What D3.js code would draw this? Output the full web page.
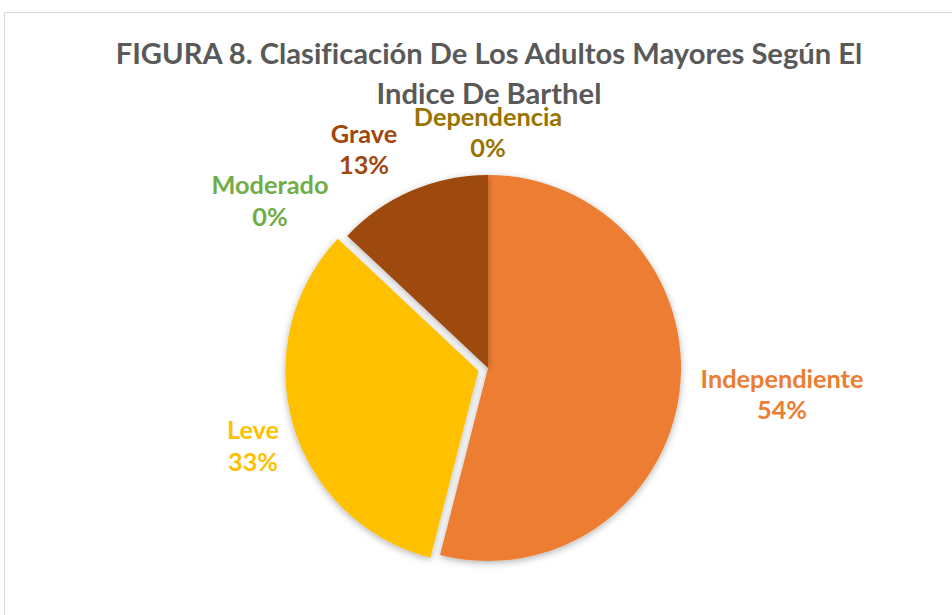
<!DOCTYPE html>
<html>
<head>
<meta charset="utf-8">
<script src="https://cdn.jsdelivr.net/npm/d3@7"></script>
<style>
  html, body { margin: 0; padding: 0; background: #fff; }
  svg { display: block; }
  text { font-variant-ligatures: none; font-feature-settings: "liga" 0; }
</style>
</head>
<body>
<svg id="chart" width="952" height="615"></svg>
<script>
// ---- data ----
const categories = ["Independiente", "Leve", "Moderado", "Grave", "Dependencia"];
const values = [54, 33, 0, 13, 0];
const percentLabels = ["54%", "33%", "0%", "13%", "0%"];
const colors = ["#ED7D31", "#FFC000", "#70AD47", "#9E480E", "#997300"];
const explodedIndex = 1; // Leve slice pulled out
const titleLines = ["FIGURA 8. Clasificación De Los Adultos Mayores Según El", "Indice De Barthel"];

// ---- layout (label block centres relative to pie centre, as Excel placed them) ----
const labelOffsets = [[294, 28], [-235, 79.5], [-218, -165.5], [-124, -217], [0, -234]];

const W = 952, H = 615;
const cx = 488, cy = 368, R = 193, explode = 10;
const FONT = "Lato, 'Open Sans', sans-serif";

const svg = d3.select("#chart");

const defs = svg.append("defs");
const f = defs.append("filter").attr("id", "shadow")
  .attr("x", "-20%").attr("y", "-20%").attr("width", "140%").attr("height", "140%");
f.append("feDropShadow").attr("dx", 0).attr("dy", 2).attr("stdDeviation", 3.5)
  .attr("flood-color", "#000").attr("flood-opacity", 0.3);

// chart border
svg.append("rect").attr("x", 4.5).attr("y", 12.5).attr("width", 1000).attr("height", 700)
  .attr("fill", "#fff").attr("stroke", "#d9d9d9").attr("stroke-width", 1);

// title
const title = svg.append("text").attr("text-anchor", "middle")
  .attr("font-family", FONT).attr("font-weight", 700).attr("fill", "#595959");
titleLines.forEach((t, i) => {
  title.append("tspan").attr("x", 489).attr("y", 64 + i * 40).text(t);
});
title.attr("font-size", 28);
{
  const w = title.select("tspan").node().getComputedTextLength();
  title.attr("font-size", 28 * 747 / w);
}

// pie
const pie = d3.pie().sort(null).value(d => d).startAngle(0).endAngle(2 * Math.PI);
const arcs = pie(values);
const arc = d3.arc().innerRadius(0).outerRadius(R);

const g = svg.append("g").attr("transform", `translate(${cx},${cy})`);

function dir(a) { return [Math.sin(a), -Math.cos(a)]; }

g.selectAll("path.slice").data(arcs).join("path")
  .attr("class", "slice")
  .attr("d", arc)
  .attr("fill", (d, i) => colors[i])
  .attr("filter", "url(#shadow)")
  .attr("transform", (d, i) => {
    if (i !== explodedIndex) return null;
    const m = (d.startAngle + d.endAngle) / 2;
    const [ux, uy] = dir(m);
    return `translate(${ux * explode},${uy * explode})`;
  });

// labels
const labelFs = 22;
const lineH = 31.5;
const labels = g.selectAll("text.lbl").data(arcs).join("text")
  .attr("class", "lbl")
  .attr("text-anchor", "middle")
  .attr("font-family", FONT).attr("font-weight", 700)
  .attr("font-size", labelFs)
  .attr("fill", (d, i) => colors[i]);

labels.each(function(d, i) {
  const t = d3.select(this);
  t.append("tspan").attr("x", 0).attr("dy", 0).text(categories[i]);
  t.append("tspan").attr("x", 0).attr("dy", lineH).text(percentLabels[i]);
});

{
  const w = labels.filter((d, i) => i === 0).select("tspan").node().getComputedTextLength();
  labels.attr("font-size", labelFs * 163 / w);
}

labels.attr("transform", (d, i) => {
  const [lx, ly] = labelOffsets[i];
  return `translate(${lx},${ly - lineH / 2 + 7.5})`;
});
</script>
</body>
</html>
